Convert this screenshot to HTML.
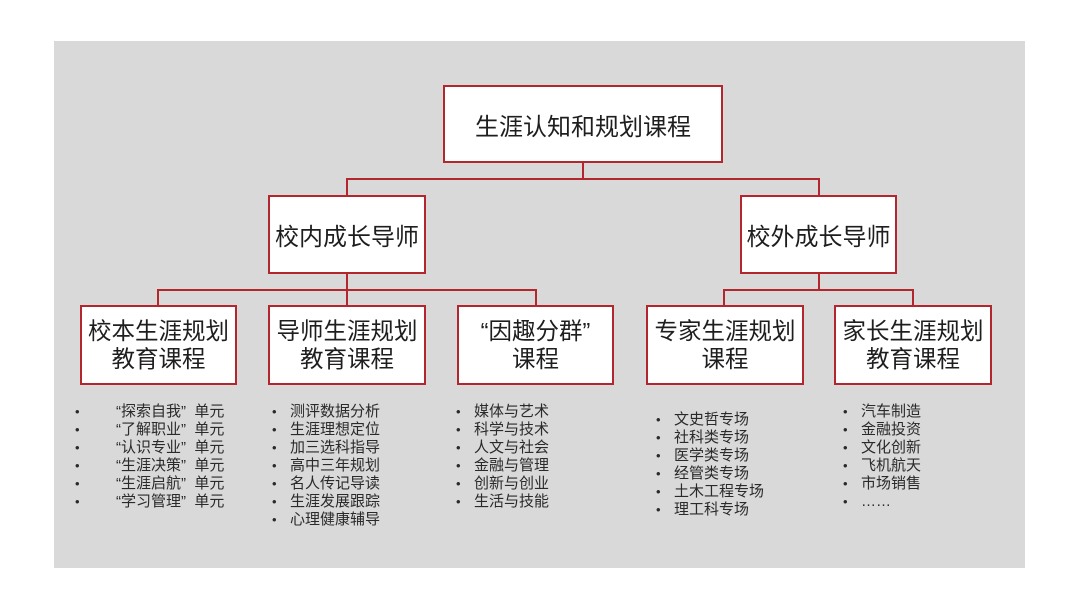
<!DOCTYPE html>
<html><head><meta charset="utf-8"><style>
*{margin:0;padding:0;box-sizing:border-box}
body{width:1080px;height:608px;background:#fff;position:relative;overflow:hidden;font-family:"Liberation Sans","Noto Sans CJK SC",sans-serif;color:#1e1e1e}
.bg{position:absolute;left:54px;top:41px;width:971px;height:527px;background:#d9d9d9}
.b{position:absolute;background:#fff;border:2px solid #b3262e;display:flex;align-items:center;justify-content:center;text-align:center}
.l1{font-size:24px}
.l3{font-size:23.5px;line-height:28px}
.ln{position:absolute;background:#b3262e}
.ul{position:absolute;font-size:15px;line-height:18px;color:#2a2a2a}
.ul div{position:relative;white-space:nowrap}
.ul div::before{content:"•";position:absolute;font-size:13px;left:-18px}
.u1 div::before{left:-41px}
</style></head><body>
<div class="bg"></div>
<div class="ln" style="left:582px;top:162px;width:2px;height:18px"></div>
<div class="ln" style="left:346px;top:178px;width:474px;height:2px"></div>
<div class="ln" style="left:346px;top:178px;width:2px;height:18px"></div>
<div class="ln" style="left:818px;top:178px;width:2px;height:18px"></div>
<div class="ln" style="left:346px;top:273px;width:2px;height:33px"></div>
<div class="ln" style="left:157px;top:289px;width:380px;height:2px"></div>
<div class="ln" style="left:157px;top:289px;width:2px;height:17px"></div>
<div class="ln" style="left:535px;top:289px;width:2px;height:17px"></div>
<div class="ln" style="left:818px;top:273px;width:2px;height:17px"></div>
<div class="ln" style="left:723px;top:289px;width:191px;height:2px"></div>
<div class="ln" style="left:723px;top:289px;width:2px;height:17px"></div>
<div class="ln" style="left:912px;top:289px;width:2px;height:17px"></div>
<div class="b l1" style="left:443px;top:85px;width:280px;height:78px">生涯认知和规划课程</div>
<div class="b l1" style="left:268px;top:195px;width:158px;height:79px">校内成长导师</div>
<div class="b l1" style="left:740px;top:195px;width:157px;height:79px">校外成长导师</div>
<div class="b l3" style="left:80px;top:305px;width:157px;height:80px">校本生涯规划<br>教育课程</div>
<div class="b l3" style="left:268px;top:305px;width:158px;height:80px">导师生涯规划<br>教育课程</div>
<div class="b l3" style="left:457px;top:305px;width:157px;height:80px">“因趣分群”<br>课程</div>
<div class="b l3" style="left:646px;top:305px;width:158px;height:80px">专家生涯规划<br>课程</div>
<div class="b l3" style="left:834px;top:305px;width:158px;height:80px">家长生涯规划<br>教育课程</div>
<div class="ul u1" style="left:116px;top:403px">
<div>“探索自我”&nbsp;&nbsp;单元</div><div>“了解职业”&nbsp;&nbsp;单元</div><div>“认识专业”&nbsp;&nbsp;单元</div><div>“生涯决策”&nbsp;&nbsp;单元</div><div>“生涯启航”&nbsp;&nbsp;单元</div><div>“学习管理”&nbsp;&nbsp;单元</div>
</div>
<div class="ul" style="left:290px;top:403px">
<div>测评数据分析</div><div>生涯理想定位</div><div>加三选科指导</div><div>高中三年规划</div><div>名人传记导读</div><div>生涯发展跟踪</div><div>心理健康辅导</div>
</div>
<div class="ul" style="left:474px;top:403px">
<div>媒体与艺术</div><div>科学与技术</div><div>人文与社会</div><div>金融与管理</div><div>创新与创业</div><div>生活与技能</div>
</div>
<div class="ul" style="left:674px;top:411px">
<div>文史哲专场</div><div>社科类专场</div><div>医学类专场</div><div>经管类专场</div><div>土木工程专场</div><div>理工科专场</div>
</div>
<div class="ul" style="left:861px;top:403px">
<div>汽车制造</div><div>金融投资</div><div>文化创新</div><div>飞机航天</div><div>市场销售</div><div>……</div>
</div>
</body></html>
